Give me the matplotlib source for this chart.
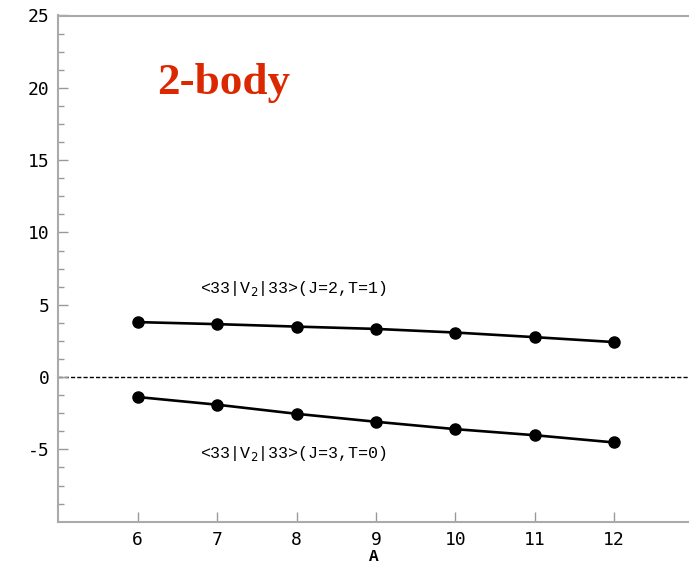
import matplotlib
matplotlib.use("Agg")
import matplotlib.pyplot as plt
import numpy as np

A = [6, 7, 8, 9, 10, 11, 12]
v_J2T1 = [3.80, 3.66, 3.49, 3.33, 3.08, 2.76, 2.42]
v_J3T0 = [-1.38, -1.91, -2.54, -3.09, -3.60, -4.02, -4.52]
yticks = [-5, 0, 5, 10, 15, 20, 25]
label_J2T1 = r"<33|V$_2$|33>(J=2,T=1)"
label_J3T0 = r"<33|V$_2$|33>(J=3,T=0)"
title_text = "2-body"
xlabel = "A"

W, H = 689, 564
fig = plt.figure(figsize=(W/100, H/100), dpi=100)
left, right, top, bottom = 58.3, 689, 15.5, 521.7
ax = fig.add_axes([left/W, 1 - bottom/H, (right-left)/W, (bottom-top)/H])

px_per_unit = 79.4
ax.set_xlim(5, 5 + (right-left)/px_per_unit)
ax.set_ylim(-10, 25)

ax.axhline(0, color="black", lw=1.0, ls=(0, (3, 1.5)), zorder=1)
for vals in (v_J2T1, v_J3T0):
    ax.plot(A, vals, color="black", lw=1.9, marker="o", ms=8, zorder=3)

mono = ["DejaVu Sans Mono"]
ax.set_xticks(A)
ax.set_xticklabels([str(a) for a in A], fontsize=13, family=mono)
ax.set_yticks(yticks)
ax.set_yticklabels([str(y) for y in yticks], fontsize=13, family=mono)
ax.set_yticks(np.arange(-8.75, 25, 1.25), minor=True)
ax.tick_params(axis="both", which="major", direction="in", length=7, color="#999999", width=1)
ax.tick_params(axis="y", which="minor", direction="in", length=4, color="#999999", width=1)
ax.tick_params(axis="x", pad=7)
ax.tick_params(axis="y", pad=6.5)

for s in ("left", "bottom", "top"):
    ax.spines[s].set_color("#aaaaaa")
    ax.spines[s].set_linewidth(1.5)
ax.spines["right"].set_visible(False)

ax.set_xlabel(xlabel, fontsize=11.5, family=["Liberation Mono"], fontweight="bold", labelpad=0)

ax.text(6.785, 6.1, label_J2T1, fontsize=12, family=["Liberation Mono"], va="center", ha="left")
ax.text(6.785, -5.3, label_J3T0, fontsize=12, family=["Liberation Mono"], va="center", ha="left")
ax.text(6.24, 20.3, title_text, fontsize=32.5, family=["Liberation Serif"], fontweight="bold",
        color="#dc2800", va="center", ha="left")

fig.savefig("out.png", dpi=100)
